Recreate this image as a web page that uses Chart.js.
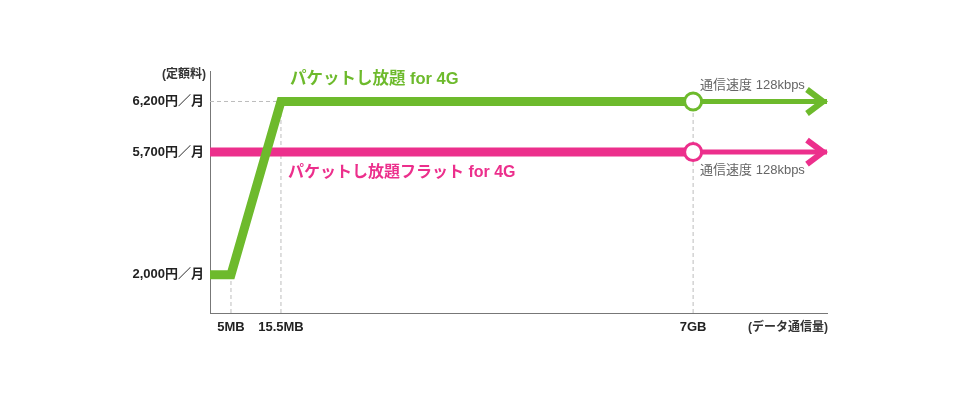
<!DOCTYPE html>
<html lang="ja">
<head>
<meta charset="utf-8">
<script src="https://cdn.jsdelivr.net/npm/chart.js@4"></script>
<style>
  html, body { margin: 0; padding: 0; background: #fff; }
  #wrap { width: 960px; height: 400px; }
</style>
</head>
<body>
<div id="wrap"><canvas id="myChart" width="960" height="400"></canvas></div>
<script>
// data volume in MB, price in yen per month
const xTicks = [5, 15.5, 7168];
const xTickLabels = ['5MB', '15.5MB', '7GB'];
const yTicks = [2000, 5700, 6200];
const yTickLabels = ['2,000円／月', '5,700円／月', '6,200円／月'];

const flatData = [0, 5, 15.5, 7168];
const flatPrice = [2000, 2000, 6200, 6200];
const flatFixData = [0, 7168];
const flatFixPrice = [5700, 5700];
const capData = 7168;   // speed drops to 128kbps above 7GB
const xEnd = 10000;     // arrow end (beyond 7GB)
const yEnd = 7000;

const greenName = 'パケットし放題 for 4G';
const pinkName = 'パケットし放題フラット for 4G';
const slowText = '通信速度 128kbps';

const GREEN = '#6dba2c';
const PINK = '#ec2f8c';
const JP = '"Liberation Sans", "Noto Sans CJK JP", sans-serif';

// schematic axis: each break value sits at a fixed fraction of the axis
const axisBreaks = {
  x: [[0, 0], [5, 0.034], [15.5, 0.115], [7168, 0.783], [xEnd, 1]],
  y: [[0, 0], [2000, 0.158], [5700, 0.665], [6200, 0.874], [yEnd, 1]]
};

class BreakScale extends Chart.LinearScale {
  getPixelForValue(value) {
    const b = axisBreaks[this.id];
    let f = 0;
    for (let i = 1; i < b.length; i++) {
      if (value <= b[i][0] || i === b.length - 1) {
        const t = (value - b[i - 1][0]) / (b[i][0] - b[i - 1][0]);
        f = b[i - 1][1] + t * (b[i][1] - b[i - 1][1]);
        break;
      }
    }
    return this.getPixelForDecimal(f);
  }
}
BreakScale.id = 'breaks';
BreakScale.defaults = {};
Chart.register(BreakScale);

function pts(xs, ys) {
  return xs.map((x, i) => ({ x: x, y: ys[i] }));
}

const guideStyle = {
  borderColor: '#bdbdbd',
  borderWidth: 1,
  borderDash: [4, 3],
  pointRadius: 0
};

const datasets = [
  {
    // circles at the 7GB cap
    data: [{ x: capData, y: flatPrice[3] }, { x: capData, y: flatFixPrice[1] }],
    showLine: false,
    pointRadius: 8.5,
    pointBorderWidth: 3,
    pointBackgroundColor: '#fff',
    pointBorderColor: [GREEN, PINK]
  },
  {
    data: pts(flatData, flatPrice),
    borderColor: GREEN, borderWidth: 9, borderJoinStyle: 'miter', pointRadius: 0
  },
  {
    data: [{ x: capData, y: flatPrice[3] }, { x: xEnd, y: flatPrice[3] }],
    borderColor: GREEN, borderWidth: 5, pointRadius: 0, arrow: true
  },
  {
    data: pts(flatFixData, flatFixPrice),
    borderColor: PINK, borderWidth: 9, pointRadius: 0
  },
  {
    data: [{ x: capData, y: flatFixPrice[1] }, { x: xEnd, y: flatFixPrice[1] }],
    borderColor: PINK, borderWidth: 5, pointRadius: 0, arrow: true
  },
  Object.assign({ data: [{ x: 0, y: 6200 }, { x: 15.5, y: 6200 }] }, guideStyle),
  Object.assign({ data: [{ x: 5, y: 0 }, { x: 5, y: 2000 }] }, guideStyle),
  Object.assign({ data: [{ x: 15.5, y: 0 }, { x: 15.5, y: 6200 }] }, guideStyle),
  Object.assign({ data: [{ x: capData, y: 0 }, { x: capData, y: 6200 }] }, guideStyle)
];

const decorations = {
  id: 'decorations',
  afterDatasetsDraw(chart) {
    const ctx = chart.ctx;
    // chevron arrow heads
    chart.data.datasets.forEach((ds, i) => {
      if (!ds.arrow) return;
      const meta = chart.getDatasetMeta(i);
      const p = meta.data[meta.data.length - 1];
      const tx = p.x - 4;
      ctx.save();
      ctx.strokeStyle = ds.borderColor;
      ctx.lineWidth = 6;
      ctx.lineJoin = 'miter';
      ctx.beginPath();
      ctx.moveTo(tx - 16, p.y - 12);
      ctx.lineTo(tx, p.y);
      ctx.lineTo(tx - 16, p.y + 12);
      ctx.stroke();
      ctx.restore();
    });

    const x = chart.scales.x, y = chart.scales.y, area = chart.chartArea;
    ctx.save();
    ctx.textBaseline = 'middle';
    ctx.textAlign = 'left';

    ctx.font = 'bold 16.5px ' + JP;
    ctx.fillStyle = GREEN;
    ctx.fillText(greenName, x.getPixelForValue(15.5) + 9, y.getPixelForValue(6200) - 22);
    ctx.font = 'bold 16px ' + JP;
    ctx.fillStyle = PINK;
    ctx.fillText(pinkName, x.getPixelForValue(15.5) + 7, y.getPixelForValue(5700) + 21);

    ctx.font = '13px ' + JP;
    ctx.fillStyle = '#666';
    ctx.fillText(slowText, x.getPixelForValue(capData) + 7, y.getPixelForValue(6200) - 16);
    ctx.fillText(slowText, x.getPixelForValue(capData) + 7, y.getPixelForValue(5700) + 18);

    ctx.font = 'bold 12px ' + JP;
    ctx.fillStyle = '#333';
    ctx.textAlign = 'right';
    ctx.fillText('(定額料)', area.left - 4, area.top + 4);
    ctx.fillText('(データ通信量)', area.right + 1, area.bottom + 15);
    ctx.restore();
  }
};

new Chart(document.getElementById('myChart'), {
  type: 'line',
  data: { datasets: datasets },
  plugins: [decorations],
  options: {
    responsive: false,
    animation: false,
    clip: false,
    layout: { padding: { left: 120, right: 133, top: 71, bottom: 57 } },
    plugins: { legend: { display: false }, tooltip: { enabled: false } },
    elements: { line: { tension: 0, fill: false } },
    scales: {
      x: {
        type: 'breaks',
        min: 0,
        max: xEnd,
        grid: { display: false },
        border: { display: true, color: '#777', width: 1 },
        afterBuildTicks: (s) => { s.ticks = xTicks.map(v => ({ value: v })); },
        afterFit: (s) => { s.height = 30; },
        ticks: {
          autoSkip: false,
          maxRotation: 0,
          padding: -1,
          color: '#222',
          font: { family: JP, size: 13, weight: 'bold' },
          callback: (v, i) => xTickLabels[i]
        }
      },
      y: {
        type: 'breaks',
        min: 0,
        max: yEnd,
        grid: { display: false },
        border: { display: true, color: '#777', width: 1 },
        afterBuildTicks: (s) => { s.ticks = yTicks.map(v => ({ value: v })); },
        afterFit: (s) => { s.width = 90; },
        ticks: {
          autoSkip: false,
          padding: -2,
          color: '#222',
          font: { family: JP, size: 13, weight: 'bold' },
          callback: (v, i) => yTickLabels[i]
        }
      }
    }
  }
});
</script>
</body>
</html>
